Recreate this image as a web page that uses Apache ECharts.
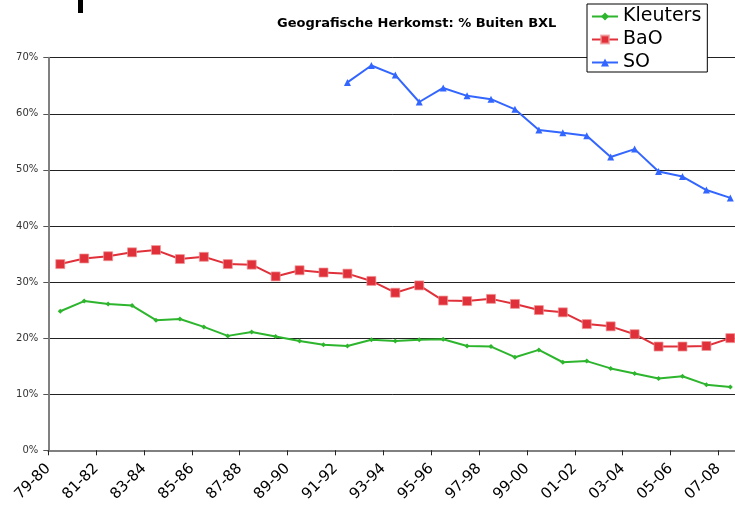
<!DOCTYPE html>
<html>
<head>
<meta charset="utf-8">
<script src="https://cdn.jsdelivr.net/npm/echarts@6/dist/echarts.min.js"></script>
<style>
html,body{margin:0;padding:0;background:#fff;}
#c{width:735px;height:507px;}
</style>
</head>
<body>
<div id="c"></div>
<script>
var categories = ['79-80','80-81','81-82','82-83','83-84','84-85','85-86','86-87','87-88','88-89','89-90','90-91','91-92','92-93','93-94','94-95','95-96','96-97','97-98','98-99','99-00','00-01','01-02','02-03','03-04','04-05','05-06','06-07','07-08'];
var tickLabels = categories.concat(['08-09']);
var kleuters = [24.8, 26.6, 26.1, 25.8, 23.2, 23.4, 22.0, 20.4, 21.1, 20.3, 19.5, 18.8, 18.6, 19.7, 19.5, 19.7, 19.8, 18.6, 18.5, 16.6, 17.9, 15.7, 15.9, 14.6, 13.7, 12.8, 13.2, 11.7, 11.3];
var bao = [33.2, 34.2, 34.6, 35.3, 35.7, 34.1, 34.5, 33.2, 33.1, 31.0, 32.1, 31.7, 31.5, 30.2, 28.1, 29.4, 26.7, 26.6, 27.0, 26.1, 25.0, 24.6, 22.5, 22.1, 20.7, 18.5, 18.5, 18.6, 20.0];
var so = [null, null, null, null, null, null, null, null, null, null, null, null, 65.6, 68.6, 66.9, 62.1, 64.6, 63.2, 62.6, 60.8, 57.1, 56.6, 56.1, 52.3, 53.7, 49.7, 48.8, 46.4, 45.0];
var seriesNames = ['Kleuters', 'BaO', 'SO'];
var titleText = 'Geografische Herkomst: % Buiten BXL';

var chart = echarts.init(document.getElementById('c'), null, {renderer: 'canvas'});
var font = 'DejaVu Sans';
chart.setOption({
  backgroundColor: '#fff',
  animation: false,
  title: {
    text: titleText,
    left: 277,
    top: 17,
    padding: 0,
    textStyle: {fontFamily: font, fontSize: 13, fontWeight: 'bold', color: '#000'}
  },
  legend: {
    orient: 'vertical',
    left: 587,
    top: 4,
    padding: [3, 6, 0, 4],
    itemWidth: 26,
    itemHeight: 10,
    itemGap: 4,
    borderColor: '#000',
    borderWidth: 1,
    backgroundColor: '#fff',
    data: seriesNames,
    textStyle: {fontFamily: font, fontSize: 19, color: '#000'}
  },
  graphic: [{
    type: 'rect',
    shape: {x: 78, y: 0, width: 5, height: 13},
    style: {fill: '#000'}
  }],
  grid: {left: 48.3, top: 57.7, width: 694, height: 392.6, containLabel: false, outerBoundsMode: 'none'},
  xAxis: [{
    type: 'category',
    data: categories,
    boundaryGap: true,
    axisLine: {show: true, lineStyle: {color: '#808080', width: 2}},
    axisTick: {show: true, length: 5, lineStyle: {color: '#222', width: 1}},
    axisLabel: {show: false},
    splitLine: {show: false}
  }, {
    type: 'category',
    data: tickLabels,
    position: 'bottom',
    boundaryGap: false,
    axisLine: {show: false},
    axisTick: {show: false},
    splitLine: {show: false},
    axisLabel: {
      show: true,
      interval: 1,
      rotate: 45,
      margin: 16,
      fontFamily: font,
      fontSize: 15,
      color: '#000'
    }
  }],
  yAxis: {
    type: 'value',
    min: 0,
    max: 70,
    interval: 10,
    axisLine: {show: true, lineStyle: {color: '#808080', width: 2}},
    axisTick: {show: true, length: 5, lineStyle: {color: '#555'}},
    axisLabel: {formatter: '{value}%', fontFamily: font, fontSize: 10, color: '#333', margin: 10},
    splitLine: {show: true, lineStyle: {color: '#222', width: 1}}
  },
  series: [{
    name: seriesNames[0],
    type: 'line',
    xAxisIndex: 0,
    data: kleuters,
    symbol: 'diamond',
    symbolSize: 5,
    lineStyle: {color: '#2db52d', width: 2},
    itemStyle: {color: '#2db52d'}
  }, {
    name: seriesNames[1],
    type: 'line',
    xAxisIndex: 0,
    data: bao,
    symbol: 'rect',
    symbolSize: 9,
    lineStyle: {color: '#e0303a', width: 2},
    itemStyle: {color: '#e0303a', borderColor: 'rgba(240,150,150,0.7)', borderWidth: 1}
  }, {
    name: seriesNames[2],
    type: 'line',
    xAxisIndex: 0,
    data: so,
    symbol: 'triangle',
    symbolSize: 7,
    connectNulls: false,
    lineStyle: {color: '#3366ff', width: 2},
    itemStyle: {color: '#3366ff'}
  }]
});
</script>
</body>
</html>
